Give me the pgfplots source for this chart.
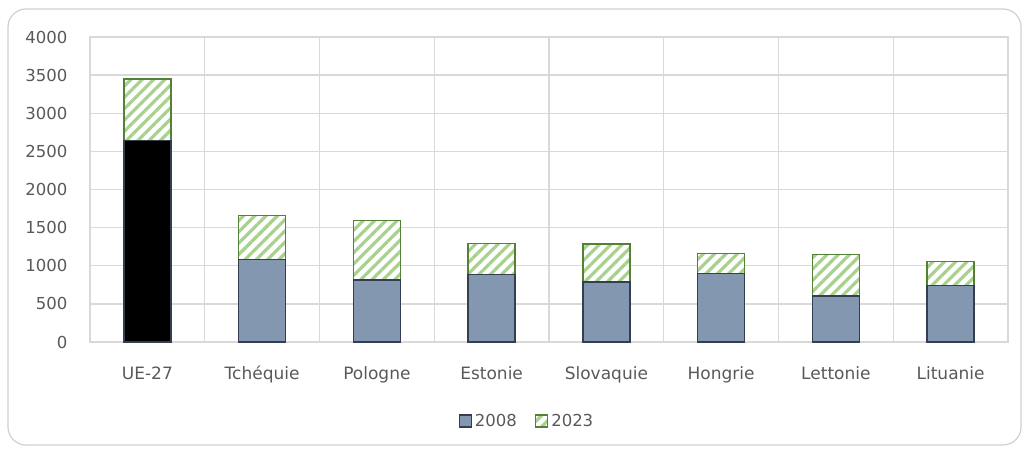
\documentclass[border=0pt]{standalone}
\usepackage{fontspec}
\setmainfont{DejaVu Sans}
\usepackage{pgfplots}
\pgfplotsset{compat=1.18}
\usetikzlibrary{patterns.meta}

\definecolor{gridgray}{HTML}{D9D9D9}
\definecolor{framegray}{HTML}{D0D0D0}
\definecolor{txtgray}{HTML}{595959}
\definecolor{barblue}{HTML}{8497B0}
\definecolor{bardark}{HTML}{333F50}
\definecolor{hatchgreen}{HTML}{A9D18E}
\definecolor{edgegreen}{HTML}{548235}

\tikzset{hatch/.style={postaction={pattern={Lines[angle=45,distance=8pt,line width=3.2pt]}, pattern color=hatchgreen}}}

\begin{document}
\begin{tikzpicture}
  % outer frame
  \draw[framegray, line width=1.2pt, rounded corners=18pt] (8pt,3pt) rectangle (1021pt,439pt);

  \begin{axis}[
      at={(90pt,106pt)}, anchor=south west,
      width=918pt, height=305pt, scale only axis,
      xmin=0.5, xmax=8.5, ymin=0, ymax=4000,
      xtick={1,2,3,4,5,6,7,8},
      xticklabels={UE-27,Tchéquie,Pologne,Estonie,Slovaquie,Hongrie,Lettonie,Lituanie},
      minor xtick={0.5,1.5,2.5,3.5,4.5,5.5,6.5,7.5,8.5},
      ytick={0,500,1000,1500,2000,2500,3000,3500,4000},
      xminorgrids, ymajorgrids,
      grid style={gridgray, line width=1.3pt},
      minor grid style={gridgray, line width=1.3pt},
      axis line style={gridgray, line width=1.3pt},
      major tick length=0pt, minor tick length=0pt,
      tick label style={font=\fontsize{16.5}{19}\selectfont, text=txtgray},
      xticklabel style={font=\fontsize{17}{19}\selectfont, anchor=base, yshift=-37pt},
      /pgf/number format/1000 sep={},
      /pgf/number format/assume math mode=true,
      yticklabel style={xshift=-19pt},
      legend style={draw=none, fill=none, at={(0.476,-0.259)}, anchor=center,
        legend columns=2, font=\fontsize{16.5}{19}\selectfont, text=txtgray,
        /tikz/every odd column/.append style={column sep=1pt},
        /tikz/every even column/.append style={column sep=16pt}},
      legend image code/.code={\draw[#1] (0pt,-6pt) rectangle (12pt,6pt);},
    ]
    % 2023 (behind)
    \addplot[ybar, bar width=47pt, bar shift=0pt, draw=edgegreen, line width=1.3pt,
      fill=white, hatch, forget plot] coordinates {
      (1,3450) (2,1660) (3,1595) (4,1292) (5,1285) (6,1162) (7,1150) (8,1060)
    };
    % 2008
    \addplot[ybar, bar width=47pt, bar shift=0pt, draw=bardark, line width=1.3pt,
      fill=black, forget plot] coordinates {
      (1,2645)
    };
    \addplot[ybar, bar width=47pt, bar shift=0pt, draw=bardark, line width=1.3pt,
      fill=barblue, forget plot] coordinates {
      (2,1083) (3,812) (4,888) (5,786) (6,902) (7,602) (8,745)
    };
    \addlegendimage{fill=barblue, draw=bardark, line width=1.3pt}
    \addlegendentry{2008}
    \addlegendimage{fill=white, draw=edgegreen, line width=1.3pt, hatch}
    \addlegendentry{2023}
  \end{axis}
  \pgfresetboundingbox
  \useasboundingbox (0pt,0pt) rectangle (1023pt,448pt);
\end{tikzpicture}
\end{document}
